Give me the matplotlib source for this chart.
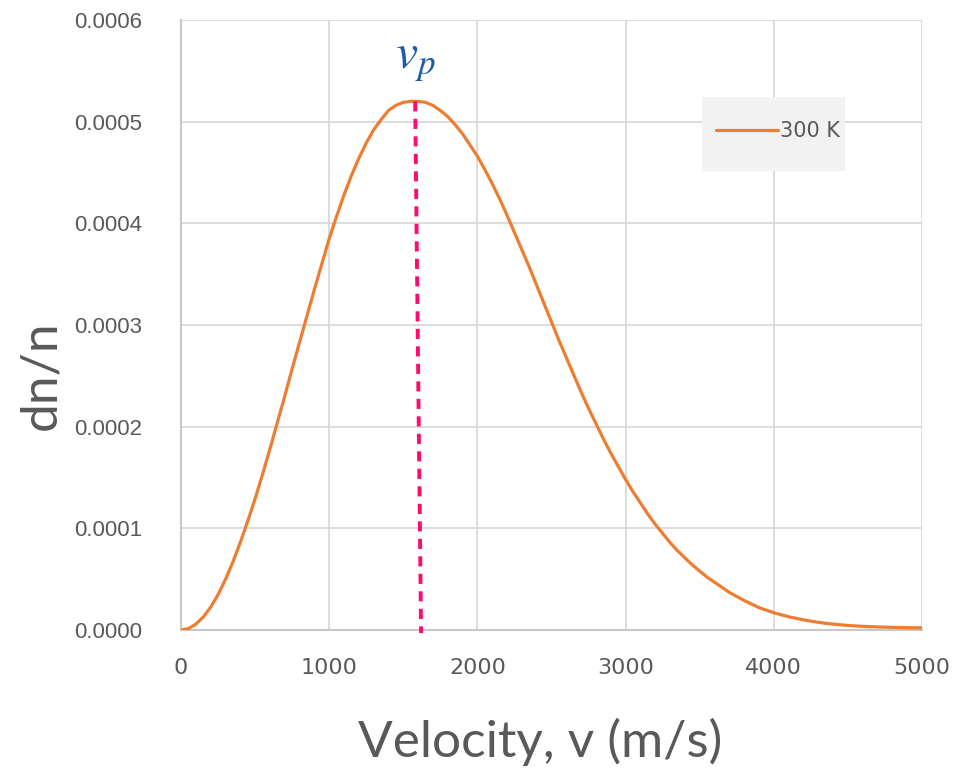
import matplotlib
matplotlib.use("Agg")
import matplotlib.pyplot as plt
from matplotlib.patches import Rectangle

# ---- data (every 50 m/s) ----
velocity = list(range(0, 5001, 50))
dn_n = [0.0, 1.4e-6, 5.7e-6, 1.27e-5, 2.25e-5, 3.48e-5, 4.97e-5, 6.68e-5, 8.6e-5, 1.07e-4,
        1.29e-4, 1.53e-4, 1.78e-4, 2.04e-4, 2.30e-4, 2.57e-4, 2.83e-4, 3.09e-4, 3.35e-4, 3.60e-4,
        3.85e-4, 4.07e-4, 4.28e-4, 4.47e-4, 4.64e-4, 4.79e-4, 4.92e-4, 5.02e-4, 5.11e-4, 5.16e-4,
        5.19e-4, 5.20e-4, 5.20e-4, 5.19e-4, 5.16e-4, 5.11e-4, 5.05e-4, 4.97e-4, 4.88e-4, 4.77e-4,
        4.66e-4, 4.53e-4, 4.39e-4, 4.24e-4, 4.08e-4, 3.91e-4, 3.74e-4, 3.57e-4, 3.39e-4, 3.21e-4,
        3.03e-4, 2.85e-4, 2.68e-4, 2.51e-4, 2.34e-4, 2.18e-4, 2.03e-4, 1.88e-4, 1.74e-4, 1.61e-4,
        1.48e-4, 1.36e-4, 1.25e-4, 1.14e-4, 1.04e-4, 9.5e-5, 8.6e-5, 7.8e-5, 7.1e-5, 6.4e-5,
        5.8e-5, 5.2e-5, 4.7e-5, 4.2e-5, 3.7e-5, 3.3e-5, 2.9e-5, 2.55e-5, 2.2e-5, 1.95e-5,
        1.7e-5, 1.5e-5, 1.3e-5, 1.15e-5, 1.0e-5, 8.7e-6, 7.6e-6, 6.6e-6, 5.8e-6, 5.1e-6,
        4.5e-6, 4.0e-6, 3.6e-6, 3.3e-6, 3.0e-6, 2.8e-6, 2.6e-6, 2.45e-6, 2.3e-6, 2.2e-6, 2.1e-6]
series_label = "300 K"
vp_top = (1580, 5.20e-4)
vp_bottom = (1620, -0.3e-5)
x_ticks = [0, 1000, 2000, 3000, 4000, 5000]
y_ticks = [0.0, 0.0001, 0.0002, 0.0003, 0.0004, 0.0005, 0.0006]
y_tick_labels = ["0.0000", "0.0001", "0.0002", "0.0003", "0.0004", "0.0005", "0.0006"]

ORANGE = "#ED7D31"
GREY_TXT = "#595959"
GRID = "#D9D9D9"
W, H = 966, 770

fig = plt.figure(figsize=(9.66, 7.70), dpi=100)
ax = fig.add_axes([181/W, 1-630/H, (922-181)/W, (630-20)/H])

ax.plot(velocity, dn_n, color=ORANGE, lw=2.3, label=series_label, zorder=4,
        solid_capstyle="round", solid_joinstyle="round")

ax.plot([vp_top[0], vp_bottom[0]], [vp_top[1], vp_bottom[1]], color="#FF0A6E",
        lw=2.8, ls=(0, (2.6, 1.9)), zorder=5, clip_on=False)
ax.text(1579, 5.61e-4, r"$v_p$", color="#1B5CA8", fontsize=36, ha="center", va="center",
        math_fontfamily="stix")

ax.set_xlim(0, 5000)
ax.set_ylim(0, 0.0006)
ax.set_xticks(x_ticks)
ax.set_yticks(y_ticks)
ax.set_yticklabels(y_tick_labels)
ax.grid(True, color=GRID, lw=1.3)
ax.set_axisbelow(True)
for s in ["top", "right"]:
    ax.spines[s].set_visible(False)
for s in ["left", "bottom"]:
    ax.spines[s].set_color("#C8C8C8")
    ax.spines[s].set_linewidth(1.5)
ax.tick_params(length=0, colors=GREY_TXT)
ax.tick_params(axis="y", pad=28, labelsize=16)
ax.tick_params(axis="x", pad=20, labelsize=16)
for lab in ax.get_xticklabels():
    lab.set_family("Liberation Sans Narrow")
for lab in ax.get_yticklabels():
    lab.set_family("Liberation Sans")

fig.text(540/W, 1-757/H, "Velocity, v (m/s)", fontsize=37, color=GREY_TXT, family="Lato",
         ha="center", va="baseline")
fig.text(41/W, 1-375/H, "dn/n", fontsize=37, color=GREY_TXT, family="Lato",
         ha="center", va="center", rotation=90)

# legend background box
ax.add_patch(Rectangle(((702-181)/741, (630-171)/610), 143/741, 74/610,
                       transform=ax.transAxes, facecolor="#F2F2F2", edgecolor="none",
                       zorder=3))
leg = ax.legend(loc="center", bbox_to_anchor=((778-181)/741, (630-131)/610),
                frameon=False, fontsize=15, handlelength=3.0, handletextpad=0.1,
                borderpad=0.0)
for t in leg.get_texts():
    t.set_color(GREY_TXT)
    t.set_family("Liberation Sans Narrow")
leg.set_zorder(6)

fig.savefig("out.png", dpi=100)
